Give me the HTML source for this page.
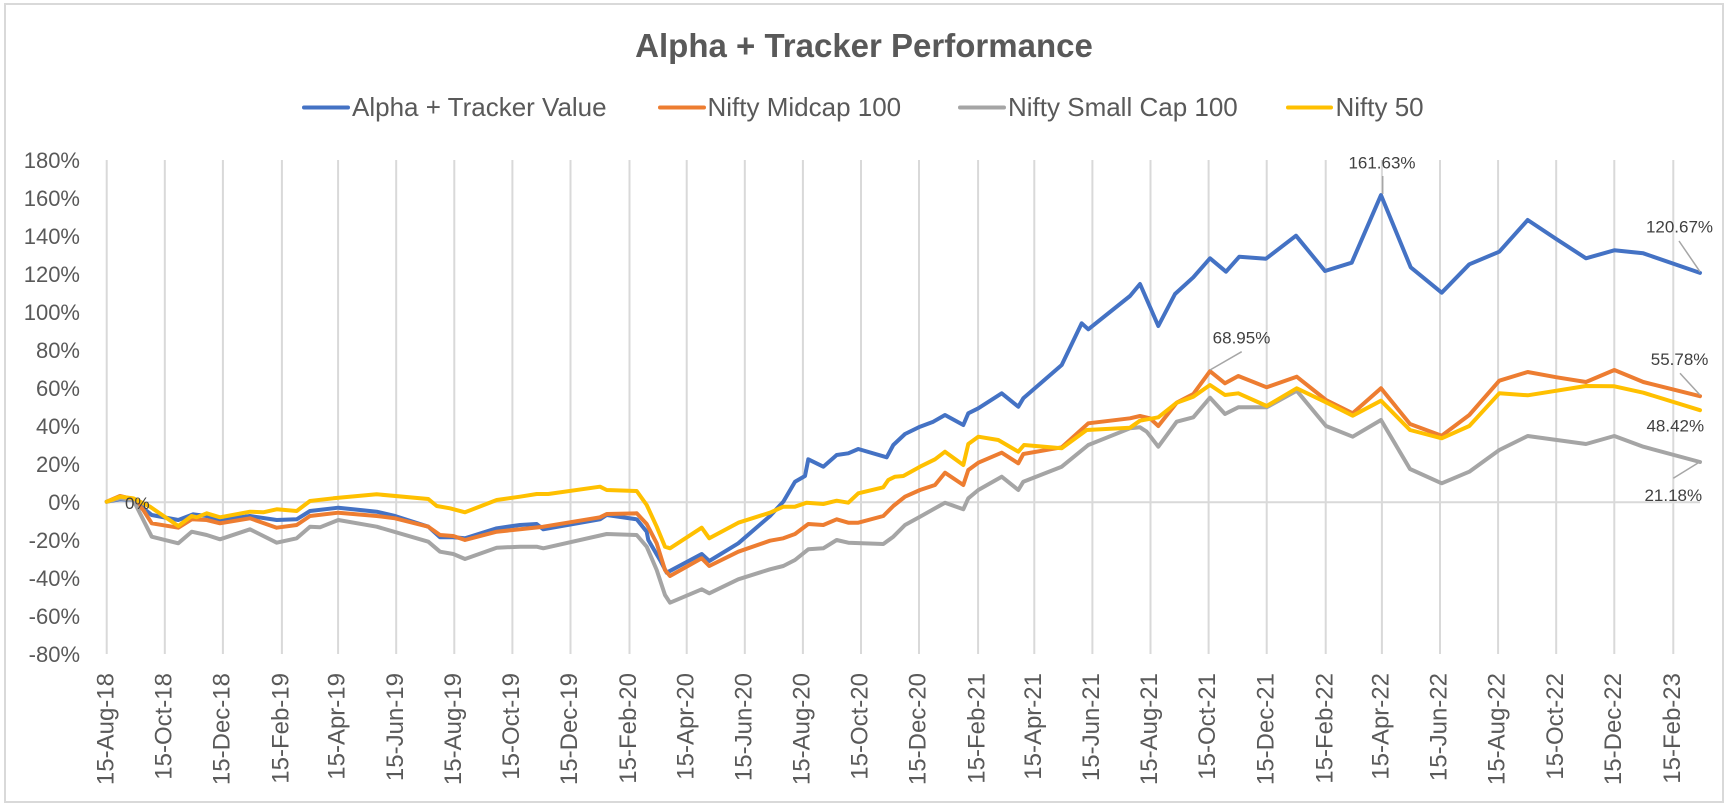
<!DOCTYPE html>
<html>
<head>
<meta charset="utf-8">
<style>
  html,body{margin:0;padding:0;background:#fff;}
  svg{display:block;}
  text{font-family:"Liberation Sans", Arial, sans-serif;}
</style>
</head>
<body>
<svg width="1728" height="807" viewBox="0 0 1728 807" xmlns="http://www.w3.org/2000/svg">
  <rect x="0" y="0" width="1728" height="807" fill="#ffffff"/>
  <rect x="5" y="4" width="1718" height="798" fill="none" stroke="#d9d9d9" stroke-width="2"/>

  <!-- Title -->
  <text x="864" y="57" text-anchor="middle" font-size="33" font-weight="bold" fill="#595959">Alpha + Tracker Performance</text>

  <!-- Legend -->
  <g stroke-width="4" stroke-linecap="round">
    <line x1="304" y1="107.5" x2="348" y2="107.5" stroke="#4472C4"/>
    <line x1="660" y1="107.5" x2="704" y2="107.5" stroke="#ED7D31"/>
    <line x1="960" y1="107.5" x2="1004" y2="107.5" stroke="#A5A5A5"/>
    <line x1="1288" y1="107.5" x2="1331" y2="107.5" stroke="#FFC000"/>
  </g>
  <g font-size="26" fill="#595959">
    <text x="352" y="116">Alpha + Tracker Value</text>
    <text x="707.5" y="116">Nifty Midcap 100</text>
    <text x="1008" y="116">Nifty Small Cap 100</text>
    <text x="1335.5" y="116">Nifty 50</text>
  </g>

  <!-- Vertical gridlines -->
  <g stroke="#d9d9d9" stroke-width="2">
    <line x1="106.7" y1="160" x2="106.7" y2="654"/>
    <line x1="164.8" y1="160" x2="164.8" y2="654"/>
    <line x1="222.9" y1="160" x2="222.9" y2="654"/>
    <line x1="281.9" y1="160" x2="281.9" y2="654"/>
    <line x1="338.1" y1="160" x2="338.1" y2="654"/>
    <line x1="396.2" y1="160" x2="396.2" y2="654"/>
    <line x1="454.3" y1="160" x2="454.3" y2="654"/>
    <line x1="512.4" y1="160" x2="512.4" y2="654"/>
    <line x1="570.5" y1="160" x2="570.5" y2="654"/>
    <line x1="629.5" y1="160" x2="629.5" y2="654"/>
    <line x1="686.7" y1="160" x2="686.7" y2="654"/>
    <line x1="744.8" y1="160" x2="744.8" y2="654"/>
    <line x1="802.9" y1="160" x2="802.9" y2="654"/>
    <line x1="861.0" y1="160" x2="861.0" y2="654"/>
    <line x1="919.0" y1="160" x2="919.0" y2="654"/>
    <line x1="978.1" y1="160" x2="978.1" y2="654"/>
    <line x1="1034.3" y1="160" x2="1034.3" y2="654"/>
    <line x1="1092.4" y1="160" x2="1092.4" y2="654"/>
    <line x1="1150.5" y1="160" x2="1150.5" y2="654"/>
    <line x1="1208.6" y1="160" x2="1208.6" y2="654"/>
    <line x1="1266.7" y1="160" x2="1266.7" y2="654"/>
    <line x1="1325.7" y1="160" x2="1325.7" y2="654"/>
    <line x1="1381.9" y1="160" x2="1381.9" y2="654"/>
    <line x1="1440.0" y1="160" x2="1440.0" y2="654"/>
    <line x1="1498.1" y1="160" x2="1498.1" y2="654"/>
    <line x1="1556.2" y1="160" x2="1556.2" y2="654"/>
    <line x1="1614.3" y1="160" x2="1614.3" y2="654"/>
    <line x1="1673.3" y1="160" x2="1673.3" y2="654"/>
    <!-- horizontal axis at 0% -->
    <line x1="106.7" y1="502.2" x2="1700" y2="502.2"/>
  </g>

  <!-- Y axis labels -->
  <g font-size="22" fill="#595959" text-anchor="end">
    <text x="80" y="168.2">180%</text>
    <text x="80" y="206.2">160%</text>
    <text x="80" y="244.2">140%</text>
    <text x="80" y="282.2">120%</text>
    <text x="80" y="320.2">100%</text>
    <text x="80" y="358.2">80%</text>
    <text x="80" y="396.2">60%</text>
    <text x="80" y="434.2">40%</text>
    <text x="80" y="472.2">20%</text>
    <text x="80" y="510.2">0%</text>
    <text x="80" y="548.2">-20%</text>
    <text x="80" y="586.2">-40%</text>
    <text x="80" y="624.2">-60%</text>
    <text x="80" y="662.2">-80%</text>
  </g>

  <!-- X axis labels -->
  <g font-size="24" fill="#595959" text-anchor="end">
    <text transform="translate(113.3,673) rotate(-90)">15-Aug-18</text>
    <text transform="translate(171.4,673) rotate(-90)">15-Oct-18</text>
    <text transform="translate(229.5,673) rotate(-90)">15-Dec-18</text>
    <text transform="translate(288.5,673) rotate(-90)">15-Feb-19</text>
    <text transform="translate(344.7,673) rotate(-90)">15-Apr-19</text>
    <text transform="translate(402.8,673) rotate(-90)">15-Jun-19</text>
    <text transform="translate(460.9,673) rotate(-90)">15-Aug-19</text>
    <text transform="translate(519.0,673) rotate(-90)">15-Oct-19</text>
    <text transform="translate(577.1,673) rotate(-90)">15-Dec-19</text>
    <text transform="translate(636.1,673) rotate(-90)">15-Feb-20</text>
    <text transform="translate(693.3,673) rotate(-90)">15-Apr-20</text>
    <text transform="translate(751.4,673) rotate(-90)">15-Jun-20</text>
    <text transform="translate(809.5,673) rotate(-90)">15-Aug-20</text>
    <text transform="translate(867.6,673) rotate(-90)">15-Oct-20</text>
    <text transform="translate(925.6,673) rotate(-90)">15-Dec-20</text>
    <text transform="translate(984.7,673) rotate(-90)">15-Feb-21</text>
    <text transform="translate(1040.9,673) rotate(-90)">15-Apr-21</text>
    <text transform="translate(1099.0,673) rotate(-90)">15-Jun-21</text>
    <text transform="translate(1157.1,673) rotate(-90)">15-Aug-21</text>
    <text transform="translate(1215.2,673) rotate(-90)">15-Oct-21</text>
    <text transform="translate(1273.3,673) rotate(-90)">15-Dec-21</text>
    <text transform="translate(1332.3,673) rotate(-90)">15-Feb-22</text>
    <text transform="translate(1388.5,673) rotate(-90)">15-Apr-22</text>
    <text transform="translate(1446.6,673) rotate(-90)">15-Jun-22</text>
    <text transform="translate(1504.7,673) rotate(-90)">15-Aug-22</text>
    <text transform="translate(1562.8,673) rotate(-90)">15-Oct-22</text>
    <text transform="translate(1620.9,673) rotate(-90)">15-Dec-22</text>
    <text transform="translate(1679.9,673) rotate(-90)">15-Feb-23</text>
  </g>

  <!-- Series -->
  <g fill="none" stroke-width="4" stroke-linejoin="round" stroke-linecap="round">
    <polyline stroke="#4472C4" points="106.7,501.7 120,499.3 133.3,500 143.3,508.3 151.7,515 178.3,520 193.3,514.3 206.7,516 220,520 250,516 276.7,520 296.7,519.3 310,511 338.3,507.7 376.7,511.7 395,516 428.3,526.7 440,537.3 453.3,537.3 465,538.3 496.7,528.3 520,525 536.7,524 543.3,529.3 600,519.3 606.7,515 636.7,519.3 646.7,531.7 648.3,540 660,560 666.7,572.7 701.7,554 709.3,561 738.3,543.3 770,516 783.3,501.7 795,481.7 805,476 808.3,459.3 823.3,466.7 836.7,455 848.3,453.3 858.3,449 886.7,457.3 893.3,445 905,434 920,426.7 933.3,421.7 945,415 963.3,425 968.3,413.3 978.3,408.3 1001.7,393.3 1018.3,406.7 1023.3,398.3 1061.7,365 1081.7,323.3 1088.3,329.3 1130,296 1140,284 1158.3,326 1175,294 1193.3,277.3 1210,258.3 1226,271.7 1239.3,256.7 1266,258.7 1296,235.7 1325,271 1351.7,262.7 1381,195.1 1410.7,267.3 1441.7,292.7 1469.3,264.3 1499.3,251.7 1527.7,220 1556.7,239.3 1586,258.3 1614.3,250.3 1643.3,253.3 1700,272.9"/>
    <polyline stroke="#ED7D31" points="106.7,501.7 120,496 133.3,499.3 143.3,510 151.7,523.3 178.3,527.7 191.7,519.3 206.7,520 220,523.3 250,518.3 276.7,527.7 296.7,525 310,516 338.3,512.7 376.7,516 395,518.3 428.3,526.7 440,535 453.3,536 465,540 496.7,531.7 520,529.3 543.3,526.7 600,517.3 606.7,514 636.7,513.3 646.7,524 656.7,543.3 665,570 670,576 701.7,558.3 709.3,566 738.3,551.7 770,540.7 783.3,538.3 795,534 808.3,524 823.3,525 836.7,519.3 848.3,522.7 858.3,522.7 883.3,516 893.3,506 905,496.7 920,490 935,485 945,472.7 963.3,485 968.3,470 978.3,462.7 1001.7,452.7 1018.3,463.3 1023.3,454 1061.7,447.3 1088.3,423.3 1130,418.3 1140,416 1150,418.3 1158.3,426 1176.7,402.7 1193.3,394 1210,371.2 1225,383.3 1238.3,376 1266.7,387.3 1296.7,376.7 1326,400 1352.7,413.3 1381,388.3 1410,424 1441.7,435.7 1469.3,415 1499.3,380.7 1527.7,372 1556.7,377.3 1586,382 1614.3,370 1643.3,382 1700,396.2"/>
    <polyline stroke="#A5A5A5" points="106.7,501.7 120,498.3 133.3,500 151.7,536.7 178.3,543.3 191.7,531.7 206.7,535 220,539.3 250,529.3 276.7,542.7 296.7,538.3 310,526.7 320,527.3 338.3,520 376.7,526.7 428.3,541.7 440,551.7 453.3,554 465,559 496.7,547.7 520,546.7 536.7,546.7 543.3,548.3 606.7,534 636.7,535 646.7,546.7 656.7,570 665,595 670,602.7 701.7,589.3 709.3,593.3 738.3,579.3 770,569.3 783.3,566 795,560 808.3,549.3 823.3,548.3 836.7,540 848.3,542.7 883.3,544 893.3,536.7 905,525 920,516.7 933.3,509.3 945,502.7 963.3,509.3 968.3,498.3 978.3,490 1001.7,476.7 1018.3,490 1023.3,481.7 1061.7,466.7 1088.3,445 1130,428.3 1140,427.3 1146.7,431.7 1158.3,446.7 1176.7,421.7 1193.3,417.3 1210,397.7 1225,414 1238.3,407.3 1266.7,407.3 1296.7,390.7 1326,426 1352.7,436.7 1381,420 1410,469 1441.7,483.3 1469.3,471.7 1499.3,450 1527.7,436 1586,444 1614.3,436 1643.3,446.7 1700,462"/>
    <polyline stroke="#FFC000" points="106.7,501.7 120,496.7 133.3,498.3 150,506.7 178.3,526 191.7,516 196.7,517.3 206.7,513.3 220,517.3 250,511.7 263.3,512.3 276.7,509.3 296.7,511 310,501 333.3,498.3 376.7,494.3 428.3,499 436.7,506 450,508.3 465,512.3 496.7,500 520,496.7 536.7,494 548.3,494 600,486.7 606.7,490 636.7,491 646.7,505 656.7,526.7 665,546.7 670,548.3 701.7,527.7 709.3,538.3 738.3,522.7 770,512.7 783.3,506.7 795,506.7 806.7,502.7 823.3,504 836.7,500.7 848.3,502.7 858.3,493.3 883.3,487.3 888.3,480 895,476.7 903.3,476 920,466.7 935,459.3 945,451.7 963.3,465 968.3,444 978.3,436.7 998.3,440 1018.3,451.7 1024,445 1061.7,448.3 1086.7,430 1130,427.7 1140,420.7 1158.3,417.3 1176.7,402.7 1193.3,396.7 1210,385 1225,395 1238.3,393.3 1266.7,406 1296.7,388.3 1326,402.3 1352.7,415.7 1381,400.7 1410,430 1441.7,438.3 1469.3,426 1499.3,393.3 1527.7,395.3 1586,386 1614.3,386.3 1643.3,392.7 1700,410.2"/>
  </g>

  <!-- Leader lines -->
  <g stroke="#a6a6a6" stroke-width="1.5" fill="none">
    <line x1="1382.7" y1="176" x2="1382.7" y2="194"/>
    <line x1="1241.7" y1="351.7" x2="1210" y2="370"/>
    <line x1="1679" y1="241" x2="1700" y2="271.7"/>
    <line x1="1680" y1="373.3" x2="1700" y2="395"/>
    <line x1="1673.3" y1="478.3" x2="1700" y2="461.7"/>
  </g>

  <!-- Data labels -->
  <g font-size="17" fill="#404040">
    <text x="125" y="509">0%</text>
    <text x="1382" y="168.3" text-anchor="middle">161.63%</text>
    <text x="1241.5" y="343.3" text-anchor="middle">68.95%</text>
    <text x="1679.5" y="232.7" text-anchor="middle">120.67%</text>
    <text x="1679.6" y="365" text-anchor="middle">55.78%</text>
    <text x="1675.3" y="431.7" text-anchor="middle">48.42%</text>
    <text x="1673.3" y="501" text-anchor="middle">21.18%</text>
  </g>
</svg>
</body>
</html>
